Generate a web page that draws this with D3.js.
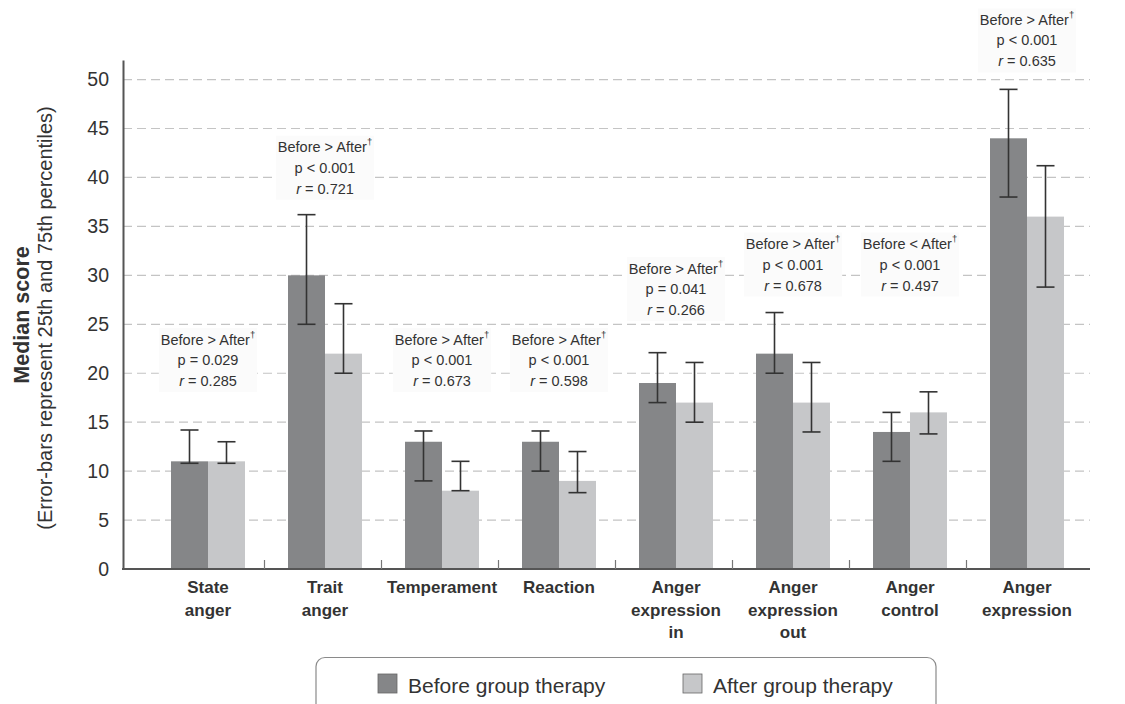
<!DOCTYPE html>
<html>
<head>
<meta charset="utf-8">
<script src="https://cdn.jsdelivr.net/npm/d3@7"></script>
<style>
  body { margin: 0; background: #fff; }
  svg { font-family: "Liberation Sans", Arial, Helvetica, sans-serif; }
</style>
</head>
<body>
<div id="chart-container"></div>
<script>
// chart data
const categories = [
  ["State", "anger"],
  ["Trait", "anger"],
  ["Temperament"],
  ["Reaction"],
  ["Anger", "expression", "in"],
  ["Anger", "expression", "out"],
  ["Anger", "control"],
  ["Anger", "expression"]
];
const beforeMedian = [11, 30, 13, 13, 19, 22, 14, 44];
const beforeQ1 = [10.8, 25, 9, 10, 17, 20, 11, 38];
const beforeQ3 = [14.2, 36.2, 14.1, 14.1, 22.1, 26.2, 16, 49];
const afterMedian = [11, 22, 8, 9, 17, 17, 16, 36];
const afterQ1 = [10.8, 20, 8, 7.8, 15, 14, 13.8, 28.8];
const afterQ3 = [13, 27.1, 11, 12, 21.1, 21.1, 18.1, 41.2];
const direction = [">", ">", ">", ">", ">", ">", "<", ">"];
const pText = ["p = 0.029", "p < 0.001", "p < 0.001", "p < 0.001", "p = 0.041", "p < 0.001", "p < 0.001", "p < 0.001"];
const rText = ["0.285", "0.721", "0.673", "0.598", "0.266", "0.678", "0.497", "0.635"];
// score level the middle line of each note sits at
const noteLevel = [21.35, 41, 21.35, 21.35, 28.6, 31.1, 31.1, 54];
const yTicks = [0, 5, 10, 15, 20, 25, 30, 35, 40, 45, 50];
const seriesNames = ["Before group therapy", "After group therapy"];
const seriesKeys = ["before", "after"];
const colors = { before: "#858688", after: "#c6c7c9" };

const svgWidth = 1125, svgHeight = 704;
const svg = d3.select("#chart-container").append("svg")
  .attr("width", svgWidth).attr("height", svgHeight);

const ids = categories.map((c, i) => i);
const x = d3.scaleBand().domain(ids).range([149.5, 1085.5]).padding(0);
const x1 = d3.scaleBand().domain(seriesKeys).range([21.5, 95.5]);
const y = d3.scaleLinear().domain([0, 52]).range([569, 60]);

// dashed gridlines
svg.append("g")
  .selectAll("line")
  .data(yTicks.filter(d => d > 0))
  .join("line")
  .attr("x1", 123).attr("x2", 1090)
  .attr("y1", d => y(d)).attr("y2", d => y(d))
  .attr("stroke", "#c4c4c4").attr("stroke-width", 1.2)
  .attr("stroke-dasharray", "9,5");

// y axis
const yAxis = svg.append("g")
  .attr("transform", "translate(123,0)")
  .call(d3.axisLeft(y).tickValues(yTicks).tickSize(0).tickPadding(14));
yAxis.select(".domain").attr("stroke", "#555").attr("stroke-width", 2);
yAxis.selectAll("text").attr("font-size", 19.5).attr("fill", "#333")
  .attr("font-family", "Liberation Sans, Arial, sans-serif");

// y title
svg.append("text")
  .attr("transform", "translate(29,315) rotate(-90)")
  .attr("text-anchor", "middle")
  .attr("font-size", 21.5).attr("font-weight", "bold").attr("fill", "#333")
  .text("Median score");
svg.append("text")
  .attr("transform", "translate(52,318) rotate(-90)")
  .attr("text-anchor", "middle")
  .attr("font-size", 20).attr("fill", "#333")
  .text("(Error-bars represent 25th and 75th percentiles)");

// rows for the bars
const rows = [];
ids.forEach(i => {
  rows.push({ i: i, key: "before", v: beforeMedian[i], lo: beforeQ1[i], hi: beforeQ3[i] });
  rows.push({ i: i, key: "after", v: afterMedian[i], lo: afterQ1[i], hi: afterQ3[i] });
});

svg.append("g")
  .selectAll("rect")
  .data(rows)
  .join("rect")
  .attr("x", d => x(d.i) + x1(d.key))
  .attr("width", x1.bandwidth())
  .attr("y", d => y(d.v))
  .attr("height", d => y(0) - y(d.v))
  .attr("fill", d => colors[d.key]);

// error bars
const err = svg.append("g").attr("stroke", "#333").attr("stroke-width", 1.6)
  .selectAll("g").data(rows).join("g");
const cx = d => x(d.i) + x1(d.key) + x1.bandwidth() / 2;
err.append("line")
  .attr("x1", cx).attr("x2", cx)
  .attr("y1", d => y(d.lo)).attr("y2", d => y(d.hi));
err.append("line")
  .attr("x1", d => cx(d) - 9).attr("x2", d => cx(d) + 9)
  .attr("y1", d => y(d.hi)).attr("y2", d => y(d.hi));
err.append("line")
  .attr("x1", d => cx(d) - 9).attr("x2", d => cx(d) + 9)
  .attr("y1", d => y(d.lo)).attr("y2", d => y(d.lo));

// x axis line and separator ticks
svg.append("line")
  .attr("x1", 122).attr("x2", 1090).attr("y1", y(0)).attr("y2", y(0))
  .attr("stroke", "#555").attr("stroke-width", 2);
svg.append("g")
  .selectAll("line")
  .data(ids.slice(1))
  .join("line")
  .attr("x1", d => x(d) - 2).attr("x2", d => x(d) - 2)
  .attr("y1", y(0)).attr("y2", y(0) - 9)
  .attr("stroke", "#777").attr("stroke-width", 1.2);

// category labels
const catLabel = svg.append("g")
  .selectAll("text")
  .data(ids)
  .join("text")
  .attr("text-anchor", "middle")
  .attr("font-size", 17).attr("font-weight", "bold").attr("fill", "#333")
  .attr("x", d => x(d) + x.bandwidth() / 2)
  .attr("y", 593);
catLabel.selectAll("tspan")
  .data(d => categories[d].map(t => ({ t: t, x: x(d) + x.bandwidth() / 2 })))
  .join("tspan")
  .attr("x", d => d.x)
  .attr("dy", (d, k) => k === 0 ? 0 : 22.5)
  .text(d => d.t);

// significance notes
const notes = svg.append("g").selectAll("g").data(ids).join("g");
notes.each(function (i) {
  const g = d3.select(this);
  const nx = x(i) + x.bandwidth() / 2;
  const my = y(noteLevel[i]);
  const bg = g.append("rect").attr("fill", "#fbfbfb");
  const t1 = g.append("text").attr("x", nx).attr("y", my - 20.5)
    .attr("text-anchor", "middle").attr("dominant-baseline", "central")
    .attr("font-size", 14.5).attr("fill", "#333");
  t1.append("tspan").text("Before " + direction[i] + " After");
  t1.append("tspan").attr("font-size", 9.5).attr("dy", -6).attr("fill", "#333").text("\u2020");
  g.append("text").attr("x", nx).attr("y", my)
    .attr("text-anchor", "middle").attr("dominant-baseline", "central")
    .attr("font-size", 14.5).attr("fill", "#333")
    .text(pText[i]);
  const t3 = g.append("text").attr("x", nx).attr("y", my + 21)
    .attr("text-anchor", "middle").attr("dominant-baseline", "central")
    .attr("font-size", 14.5).attr("fill", "#333");
  t3.append("tspan").attr("font-style", "italic").text("r");
  t3.append("tspan").text(" = " + rText[i]);
  const w = t1.node().getBBox().width + 4;
  bg.attr("x", nx - w / 2).attr("width", w)
    .attr("y", my - 32).attr("height", 64);
});

// legend
const legend = svg.append("g");
legend.append("rect")
  .attr("x", 316).attr("y", 657.5).attr("width", 620).attr("height", 70)
  .attr("rx", 9)
  .attr("fill", "#fff").attr("stroke", "#8a8a8a").attr("stroke-width", 1.2);
const legX = [378, 683];
seriesKeys.forEach((k, j) => {
  legend.append("rect")
    .attr("x", legX[j]).attr("y", 674).attr("width", 19).attr("height", 19)
    .attr("fill", colors[k]).attr("stroke", "#666").attr("stroke-width", 0.8);
  legend.append("text")
    .attr("x", legX[j] + 30).attr("y", 693)
    .attr("font-size", 21).attr("fill", "#333")
    .text(seriesNames[j]);
});
</script>
</body>
</html>
